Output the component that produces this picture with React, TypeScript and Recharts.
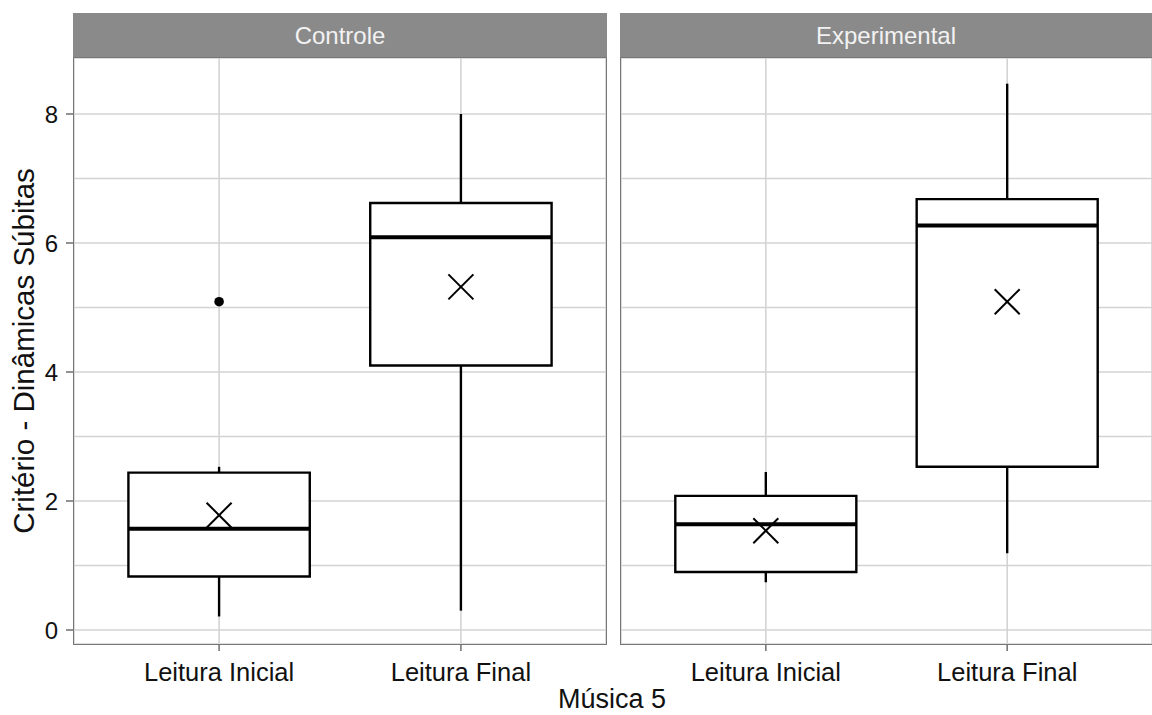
import React from 'react';
import {
  ComposedChart,
  XAxis,
  YAxis,
  CartesianGrid,
  ReferenceArea,
  ReferenceLine,
  Scatter,
} from 'recharts';

// ---------- data ----------
const categories = ['Leitura Inicial', 'Leitura Final'];
const groups = ['Controle', 'Experimental'];
const yTicks = [0, 2, 4, 6, 8];
const gridTicks = [0, 1, 2, 3, 4, 5, 6, 7, 8];

const controleLow = [0.21, 0.3];
const controleQ1 = [0.83, 4.1];
const controleMedian = [1.57, 6.09];
const controleQ3 = [2.44, 6.62];
const controleHigh = [2.53, 8.0];
const controleMean = [1.78, 5.32];
const controleOutliers = [{ cat: 0, value: 5.09 }];

const experimentalLow = [0.74, 1.19];
const experimentalQ1 = [0.9, 2.53];
const experimentalMedian = [1.64, 6.27];
const experimentalQ3 = [2.08, 6.68];
const experimentalHigh = [2.45, 8.47];
const experimentalMean = [1.54, 5.09];
const experimentalOutliers: { cat: number; value: number }[] = [];

const xTitle = 'Música 5';
const yTitle = 'Critério - Dinâmicas Súbitas';

// ---------- styling ----------
const FONT = '"Liberation Sans", Arial, Helvetica, sans-serif';
const GRID = '#d3d3d3';
const BORDER = '#777777';
const Y_DOMAIN: [number, number] = [-0.217, 8.868];
const X_DOMAIN: [number, number] = [0.4, 2.6];
const HALF_BOX = 0.375;

type Stats = {
  low: number[];
  q1: number[];
  median: number[];
  q3: number[];
  high: number[];
  mean: number[];
  outliers: { cat: number; value: number }[];
};

const statsByGroup: Stats[] = [
  {
    low: controleLow,
    q1: controleQ1,
    median: controleMedian,
    q3: controleQ3,
    high: controleHigh,
    mean: controleMean,
    outliers: controleOutliers,
  },
  {
    low: experimentalLow,
    q1: experimentalQ1,
    median: experimentalMedian,
    q3: experimentalQ3,
    high: experimentalHigh,
    mean: experimentalMean,
    outliers: experimentalOutliers,
  },
];

const XMark = (props: any) => {
  const { cx, cy } = props;
  if (cx == null || cy == null) return null;
  const s = 12.5;
  return (
    <g stroke="#000" strokeWidth={2}>
      <line x1={cx - s} y1={cy - s} x2={cx + s} y2={cy + s} />
      <line x1={cx - s} y1={cy + s} x2={cx + s} y2={cy - s} />
    </g>
  );
};

const Dot = (props: any) => {
  const { cx, cy } = props;
  if (cx == null || cy == null) return null;
  return <circle cx={cx} cy={cy} r={4.8} fill="#000" />;
};

function Panel({ stats, showY, width }: { stats: Stats; showY: boolean; width: number }) {
  const meanData = stats.mean.map((v, i) => ({ x: i + 1, y: v }));
  const outData = stats.outliers.map((o) => ({ x: o.cat + 1, y: o.value }));
  return (
    <ComposedChart
      width={width}
      height={715}
      margin={{ top: 58, right: 0, bottom: 0, left: 0 }}
      style={{ fontFamily: FONT }}
    >
      <CartesianGrid yAxisId="minor" stroke={GRID} strokeWidth={1.6} />
      <XAxis
        type="number"
        dataKey="x"
        domain={X_DOMAIN}
        ticks={[1, 2]}
        interval={0}
        allowDataOverflow
        tickFormatter={(v: number) => categories[v - 1]}
        height={71}
        axisLine={false}
        tickLine={{ stroke: BORDER, strokeWidth: 1.6 }}
        tickSize={7}
        tickMargin={12}
        tick={{ fontSize: 25.5, fill: '#111', fontFamily: FONT }}
      />
      <YAxis
        yAxisId={0}
        type="number"
        dataKey="y"
        domain={Y_DOMAIN}
        ticks={yTicks}
        allowDataOverflow
        hide={!showY}
        width={74}
        axisLine={false}
        tickLine={{ stroke: BORDER, strokeWidth: 1.6 }}
        tickSize={8}
        tickMargin={8}
        tick={{ fontSize: 24, fill: '#111', fontFamily: FONT }}
      />
      <YAxis yAxisId="minor" type="number" domain={Y_DOMAIN} ticks={gridTicks} allowDataOverflow hide />

      {categories.map((c, i) => (
        <ReferenceLine
          key={'wl' + c}
          segment={[
            { x: i + 1, y: stats.low[i] },
            { x: i + 1, y: stats.q1[i] },
          ]}
          stroke="#000"
          strokeWidth={2.4}
        />
      ))}
      {categories.map((c, i) => (
        <ReferenceLine
          key={'wh' + c}
          segment={[
            { x: i + 1, y: stats.q3[i] },
            { x: i + 1, y: stats.high[i] },
          ]}
          stroke="#000"
          strokeWidth={2.4}
        />
      ))}
      {categories.map((c, i) => (
        <ReferenceArea
          key={'box' + c}
          x1={i + 1 - HALF_BOX}
          x2={i + 1 + HALF_BOX}
          y1={stats.q1[i]}
          y2={stats.q3[i]}
          fill="#fff"
          fillOpacity={1}
          stroke="#000"
          strokeWidth={2.4}
        />
      ))}
      {categories.map((c, i) => (
        <ReferenceLine
          key={'med' + c}
          segment={[
            { x: i + 1 - HALF_BOX, y: stats.median[i] },
            { x: i + 1 + HALF_BOX, y: stats.median[i] },
          ]}
          stroke="#000"
          strokeWidth={4}
        />
      ))}
      <Scatter data={meanData} shape={XMark} isAnimationActive={false} />
      {outData.length > 0 && <Scatter data={outData} shape={Dot} isAnimationActive={false} />}
    </ComposedChart>
  );
}

export default function App() {
  return (
    <div
      style={{
        position: 'absolute',
        left: 0,
        top: 0,
        width: 1152,
        height: 715,
        background: '#fff',
        fontFamily: FONT,
        overflow: 'hidden',
      }}
    >
      {/* strips */}
      <div
        style={{
          position: 'absolute',
          left: 73,
          top: 13,
          width: 534,
          height: 45,
          background: '#8a8a8a',
          color: '#f2f2f2',
          fontSize: 24,
          lineHeight: '46px',
          textAlign: 'center',
        }}
      >
        {groups[0]}
      </div>
      <div
        style={{
          position: 'absolute',
          left: 620,
          top: 13,
          width: 532,
          height: 45,
          background: '#8a8a8a',
          color: '#f2f2f2',
          fontSize: 24,
          lineHeight: '46px',
          textAlign: 'center',
        }}
      >
        {groups[1]}
      </div>

      <div style={{ position: 'absolute', left: 0, top: 0 }}>
        <Panel stats={statsByGroup[0]} showY={true} width={606} />
      </div>
      <div style={{ position: 'absolute', left: 621, top: 0 }}>
        <Panel stats={statsByGroup[1]} showY={false} width={531} />
      </div>

      {/* panel borders */}
      <div
        style={{
          position: 'absolute',
          left: 73,
          top: 57,
          width: 534,
          height: 588,
          border: `1.6px solid ${BORDER}`,
          boxSizing: 'border-box',
          pointerEvents: 'none',
        }}
      />
      <div
        style={{
          position: 'absolute',
          left: 620,
          top: 57,
          width: 533,
          height: 588,
          border: `1.6px solid ${BORDER}`,
          boxSizing: 'border-box',
          pointerEvents: 'none',
        }}
      />

      {/* axis titles */}
      <svg
        width={1152}
        height={715}
        style={{ position: 'absolute', left: 0, top: 0, pointerEvents: 'none' }}
      >
        <text
          x={612}
          y={708}
          textAnchor="middle"
          fontSize={27}
          fill="#111"
          fontFamily={FONT}
        >
          {xTitle}
        </text>
        <text
          transform="translate(34,351) rotate(-90)"
          textAnchor="middle"
          fontSize={29.5}
          fill="#111"
          fontFamily={FONT}
        >
          {yTitle}
        </text>
      </svg>
    </div>
  );
}
